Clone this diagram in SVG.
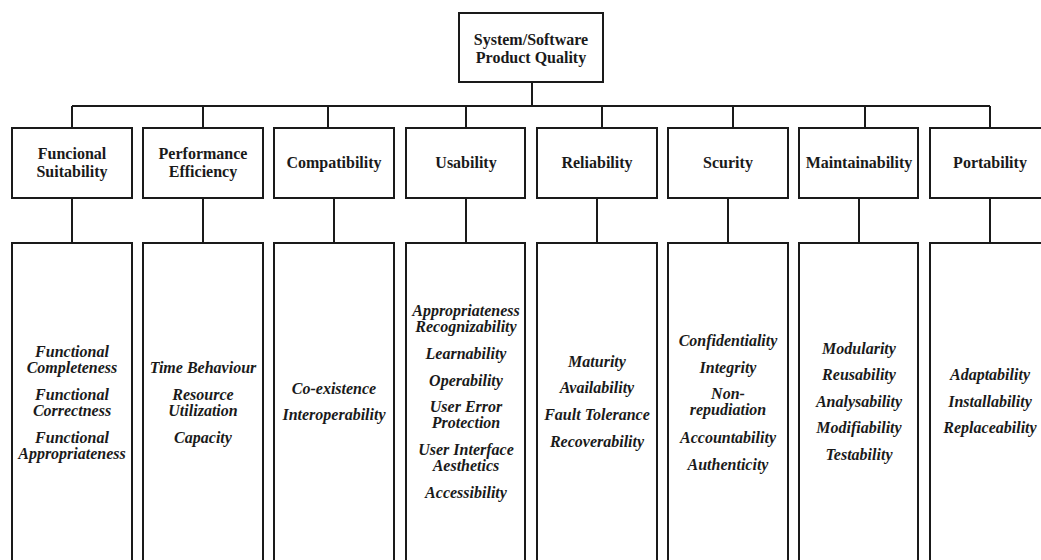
<svg xmlns="http://www.w3.org/2000/svg" width="1041" height="560" viewBox="0 0 1041 560">
<style>
.box{fill:#fff;stroke:#1a1a1a;stroke-width:2}
.con{fill:none;stroke:#1a1a1a;stroke-width:2}
.h{font-family:"Liberation Serif","Times New Roman",serif;font-weight:bold;font-size:16px;fill:#1a1a1a;text-anchor:middle}
.i{font-family:"Liberation Serif","Times New Roman",serif;font-weight:bold;font-style:italic;font-size:16px;fill:#1a1a1a;text-anchor:middle}
</style>
<rect width="1041" height="560" fill="#fff"/>
<g id="connectors">
<path class="con" d="M532 82V106M72 106H990"/>
<path class="con" d="M72 106V128M203 106V128M328 106V128M466 106V128M602 106V128M733 106V128M865 106V128M990 106V128"/>
<path class="con" d="M72 198V243M203 198V243M334 198V243M466 198V243M597 198V243M728 198V243M859 198V243M990 198V243"/>
</g>
<g id="root">
<rect class="box" x="459" y="13" width="144" height="69"/>
<text class="h" x="531" y="45">System/Software</text>
<text class="h" x="531" y="63">Product Quality</text>
</g>
<g id="functional-suitability">
<rect class="box" x="12" y="128" width="120" height="70"/>
<text class="h" x="72" y="159">Funcional</text>
<text class="h" x="72" y="177">Suitability</text>
</g>
<g id="performance-efficiency">
<rect class="box" x="143" y="128" width="120" height="70"/>
<text class="h" x="203" y="159">Performance</text>
<text class="h" x="203" y="177">Efficiency</text>
</g>
<g id="compatibility">
<rect class="box" x="274" y="128" width="120" height="70"/>
<text class="h" x="334" y="168">Compatibility</text>
</g>
<g id="usability">
<rect class="box" x="406" y="128" width="119" height="70"/>
<text class="h" x="466" y="168">Usability</text>
</g>
<g id="reliability">
<rect class="box" x="537" y="128" width="120" height="70"/>
<text class="h" x="597" y="168">Reliability</text>
</g>
<g id="security">
<rect class="box" x="668" y="128" width="120" height="70"/>
<text class="h" x="728" y="168">Scurity</text>
</g>
<g id="maintainability">
<rect class="box" x="799" y="128" width="119" height="70"/>
<text class="h" x="859" y="168">Maintainability</text>
</g>
<g id="portability">
<rect class="box" x="930" y="128" width="120" height="70"/>
<text class="h" x="990" y="168">Portability</text>
</g>
<g id="functional-suitability-sub">
<rect class="box" x="12" y="243" width="120" height="340"/>
<text class="i" x="72" y="357">Functional</text>
<text class="i" x="72" y="373">Completeness</text>
<text class="i" x="72" y="400">Functional</text>
<text class="i" x="72" y="416">Correctness</text>
<text class="i" x="72" y="443">Functional</text>
<text class="i" x="72" y="459">Appropriateness</text>
</g>
<g id="performance-efficiency-sub">
<rect class="box" x="143" y="243" width="120" height="340"/>
<text class="i" x="203" y="373">Time Behaviour</text>
<text class="i" x="203" y="400">Resource</text>
<text class="i" x="203" y="416">Utilization</text>
<text class="i" x="203" y="443">Capacity</text>
</g>
<g id="compatibility-sub">
<rect class="box" x="274" y="243" width="120" height="340"/>
<text class="i" x="334" y="394">Co-existence</text>
<text class="i" x="334" y="420">Interoperability</text>
</g>
<g id="usability-sub">
<rect class="box" x="406" y="243" width="119" height="340"/>
<text class="i" x="466" y="316">Appropriateness</text>
<text class="i" x="466" y="332">Recognizability</text>
<text class="i" x="466" y="359">Learnability</text>
<text class="i" x="466" y="386">Operability</text>
<text class="i" x="466" y="412">User Error</text>
<text class="i" x="466" y="428">Protection</text>
<text class="i" x="466" y="455">User Interface</text>
<text class="i" x="466" y="471">Aesthetics</text>
<text class="i" x="466" y="498">Accessibility</text>
</g>
<g id="reliability-sub">
<rect class="box" x="537" y="243" width="120" height="340"/>
<text class="i" x="597" y="367">Maturity</text>
<text class="i" x="597" y="393">Availability</text>
<text class="i" x="597" y="420">Fault Tolerance</text>
<text class="i" x="597" y="447">Recoverability</text>
</g>
<g id="security-sub">
<rect class="box" x="668" y="243" width="120" height="340"/>
<text class="i" x="728" y="346">Confidentiality</text>
<text class="i" x="728" y="373">Integrity</text>
<text class="i" x="728" y="399">Non-</text>
<text class="i" x="728" y="415">repudiation</text>
<text class="i" x="728" y="443">Accountability</text>
<text class="i" x="728" y="470">Authenticity</text>
</g>
<g id="maintainability-sub">
<rect class="box" x="799" y="243" width="119" height="340"/>
<text class="i" x="859" y="354">Modularity</text>
<text class="i" x="859" y="380">Reusability</text>
<text class="i" x="859" y="407">Analysability</text>
<text class="i" x="859" y="433">Modifiability</text>
<text class="i" x="859" y="460">Testability</text>
</g>
<g id="portability-sub">
<rect class="box" x="930" y="243" width="120" height="340"/>
<text class="i" x="990" y="380">Adaptability</text>
<text class="i" x="990" y="407">Installability</text>
<text class="i" x="990" y="433">Replaceability</text>
</g>
</svg>
